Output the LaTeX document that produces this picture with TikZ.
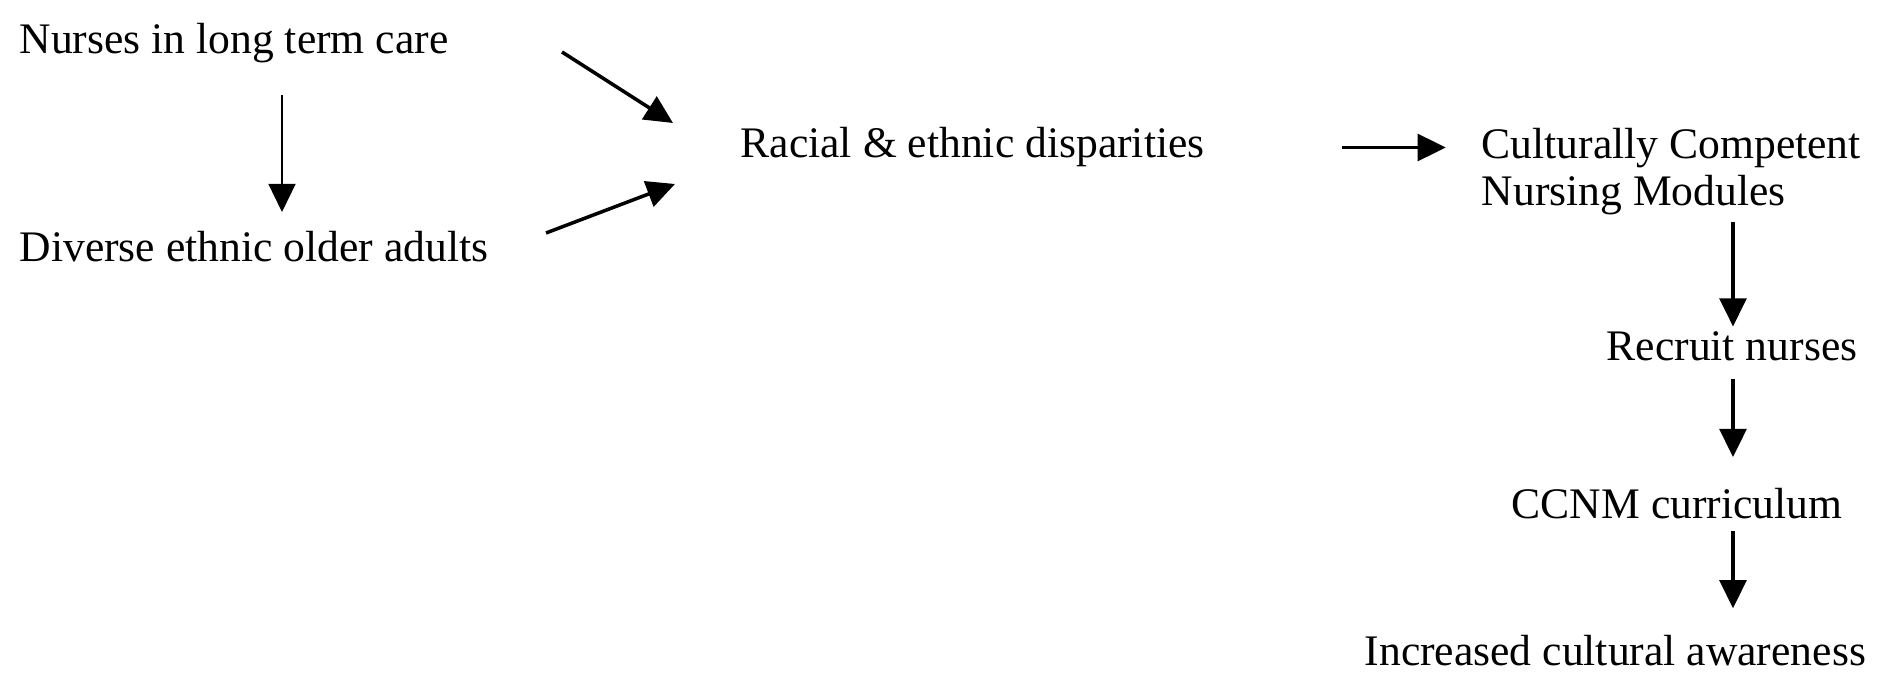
\documentclass[tikz,border=0pt]{standalone}
\usepackage{fontspec}
\setmainfont{Liberation Serif}
\usetikzlibrary{positioning, arrows.meta}

\begin{document}
\begin{tikzpicture}[
    x=0.01cm, y=-0.01cm,
    lbl/.style={anchor=base west, inner sep=0pt, align=left, font=\fontsize{12.4pt}{13.6pt}\selectfont},
    arr/.style={line width=1pt, -{Triangle[length=8pt, width=7.6pt]}},
    thin arr/.style={arr, line width=0.75pt},
]
\useasboundingbox (0,0) rectangle (1896,674);

\node[lbl] (nurses) at (19, 54) {Nurses in long term care};
\node[lbl] (diverse) at (19, 262) {Diverse ethnic older adults};
\node[lbl] (racial) at (740, 158) {Racial \& ethnic disparities};
\node[lbl] (ccnm) at (1481, 206) {Culturally Competent\\Nursing Modules};
\node[lbl] (recruit) at (1606, 361) {Recruit nurses};
\node[lbl] (curric) at (1511, 519) {CCNM curriculum};
\node[lbl] (aware) at (1364, 666) {Increased cultural awareness};

% arrow ends
\coordinate (out1) at (562, 52);
\coordinate (in1) at (673, 123);
\coordinate (out2) at (546, 233);
\coordinate (in2) at (675, 184);
\coordinate (down) at (282, 0);
\coordinate (col) at (1733, 0);

\draw[thin arr, shorten <=8.9pt, shorten >=5.4pt] (nurses.south -| down) -- (diverse.north -| down);
\draw[arr] (out1) -- (in1);
\draw[arr] (out2) -- (in2);
\draw[arr, shorten <=39pt, shorten >=10pt] (racial.east) -- (racial.east -| ccnm.west);
\draw[arr, shorten <=1.6pt, shorten >=1.4pt] (ccnm.south -| col) -- (recruit.north -| col);
\draw[arr, shorten <=4.8pt, shorten >=8.8pt] (recruit.south -| col) -- (curric.north -| col);
\draw[arr, shorten <=3.1pt, shorten >=7.6pt] (curric.south -| col) -- (aware.north -| col);
\end{tikzpicture}
\end{document}
